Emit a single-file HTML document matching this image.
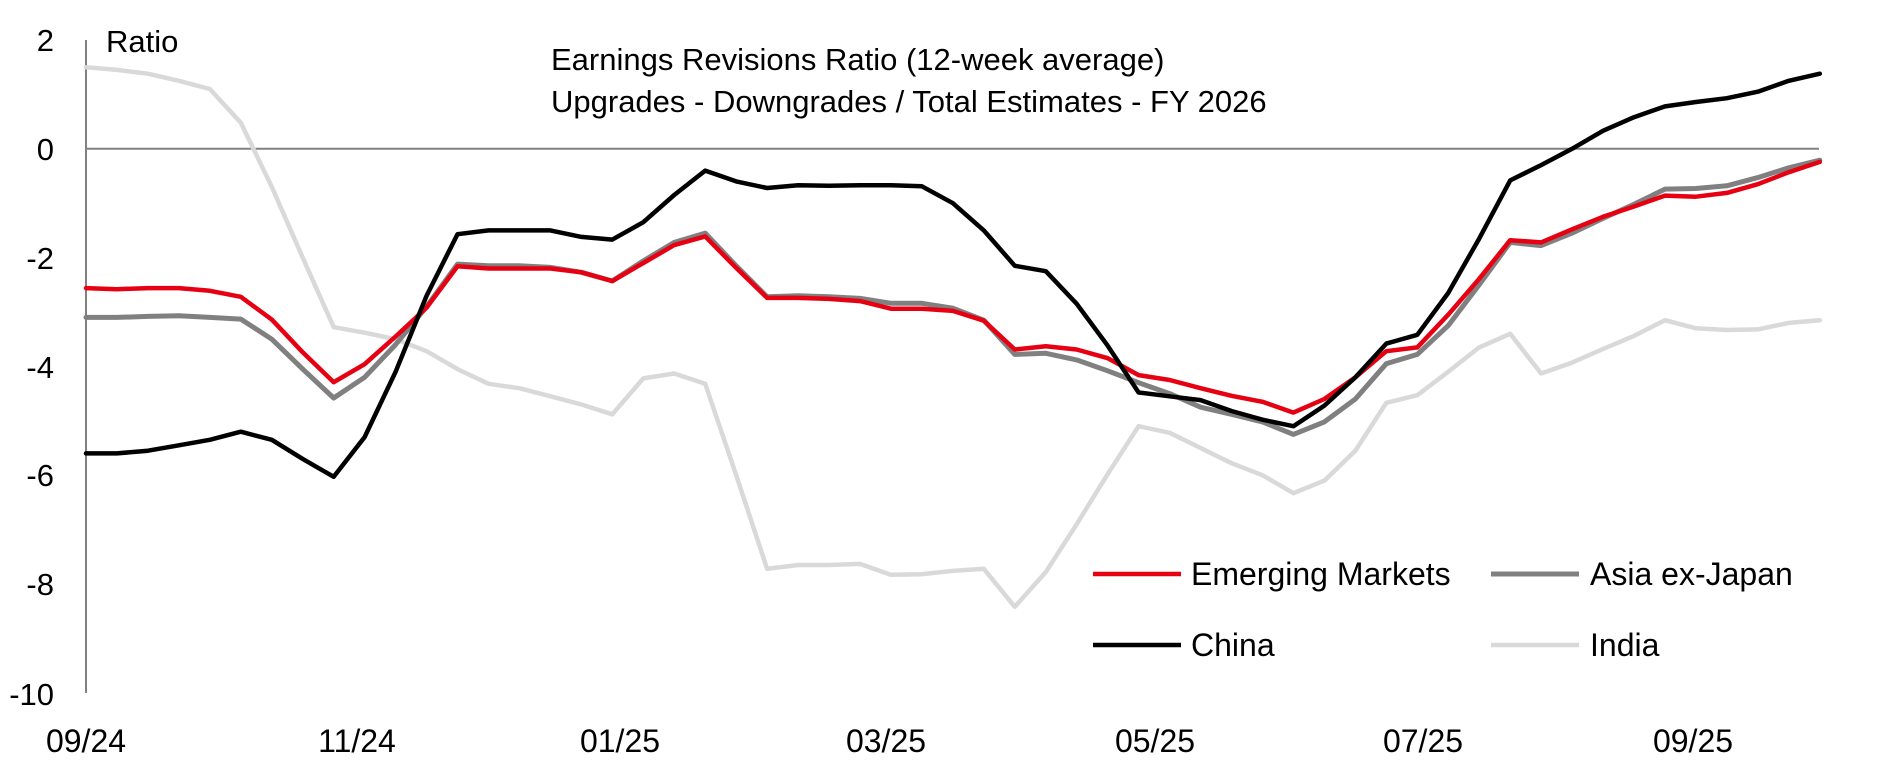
<!DOCTYPE html>
<html><head><meta charset="utf-8"><style>
html,body{margin:0;padding:0;background:#fff}
svg{display:block}
text{font-family:"Liberation Sans",sans-serif;fill:#000}
</style></head><body>
<svg id="c" width="1886" height="766" xmlns="http://www.w3.org/2000/svg">
<line x1="86" y1="148.8" x2="1819" y2="148.8" stroke="#808080" stroke-width="2"/>
<line x1="86" y1="40" x2="86" y2="693" stroke="#808080" stroke-width="2"/>
<g font-size="31" text-anchor="end">
<text x="54" y="51">2</text><text x="54" y="160">0</text><text x="54" y="269">-2</text>
<text x="54" y="378">-4</text><text x="54" y="486">-6</text><text x="54" y="595">-8</text>
<text x="54" y="705">-10</text></g>
<g font-size="32" text-anchor="middle">
<text x="86" y="752">09/24</text><text x="357" y="752">11/24</text><text x="620" y="752">01/25</text>
<text x="886" y="752">03/25</text><text x="1155" y="752">05/25</text><text x="1423" y="752">07/25</text>
<text x="1693" y="752">09/25</text></g>
<text x="106" y="52" font-size="31">Ratio</text>
<text x="551" y="70" font-size="31">Earnings Revisions Ratio (12-week average)</text>
<text x="551" y="112" font-size="31">Upgrades - Downgrades / Total Estimates - FY 2026</text>
<g id="series" fill="none" stroke-linejoin="round" stroke-linecap="round"></g>
<g font-size="32">
<line x1="1093" y1="574" x2="1181" y2="574" stroke="#e60012" stroke-width="4.5"/>
<text x="1191" y="585">Emerging Markets</text>
<line x1="1491" y1="574" x2="1579" y2="574" stroke="#808080" stroke-width="5"/>
<text x="1590" y="585">Asia ex-Japan</text>
<line x1="1093" y1="645" x2="1181" y2="645" stroke="#000" stroke-width="4.5"/>
<text x="1191" y="656">China</text>
<line x1="1491" y1="645" x2="1579" y2="645" stroke="#d9d9d9" stroke-width="4.5"/>
<text x="1590" y="656">India</text>
</g>
</svg>
<script>
var D={
india:[1.5,1.45,1.38,1.25,1.1,0.48,-0.7,-2.0,-3.28,-3.38,-3.5,-3.72,-4.05,-4.32,-4.4,-4.55,-4.7,-4.88,-4.22,-4.13,-4.32,-6.0,-7.72,-7.65,-7.65,-7.63,-7.83,-7.82,-7.76,-7.72,-8.42,-7.78,-6.9,-5.98,-5.1,-5.22,-5.5,-5.78,-6.0,-6.33,-6.1,-5.55,-4.67,-4.53,-4.1,-3.65,-3.4,-4.13,-3.93,-3.68,-3.44,-3.15,-3.3,-3.33,-3.32,-3.2,-3.15],
axj:[-3.1,-3.1,-3.08,-3.07,-3.1,-3.13,-3.5,-4.05,-4.58,-4.2,-3.6,-2.9,-2.12,-2.15,-2.15,-2.18,-2.27,-2.43,-2.06,-1.72,-1.55,-2.15,-2.72,-2.7,-2.72,-2.75,-2.84,-2.84,-2.93,-3.15,-3.78,-3.76,-3.88,-4.08,-4.3,-4.5,-4.75,-4.88,-5.02,-5.25,-5.02,-4.6,-3.95,-3.78,-3.25,-2.5,-1.72,-1.78,-1.55,-1.28,-1.02,-0.74,-0.73,-0.68,-0.53,-0.35,-0.21],
em:[-2.56,-2.58,-2.56,-2.56,-2.61,-2.72,-3.14,-3.74,-4.29,-3.96,-3.45,-2.92,-2.16,-2.2,-2.2,-2.2,-2.27,-2.43,-2.1,-1.77,-1.61,-2.19,-2.74,-2.74,-2.76,-2.8,-2.94,-2.94,-2.98,-3.16,-3.69,-3.63,-3.69,-3.85,-4.16,-4.25,-4.4,-4.54,-4.65,-4.85,-4.6,-4.2,-3.72,-3.65,-3.05,-2.39,-1.68,-1.72,-1.48,-1.25,-1.06,-0.86,-0.88,-0.81,-0.65,-0.43,-0.24],
china:[-5.6,-5.6,-5.55,-5.45,-5.35,-5.2,-5.35,-5.7,-6.03,-5.3,-4.1,-2.7,-1.57,-1.5,-1.5,-1.5,-1.62,-1.67,-1.35,-0.85,-0.4,-0.6,-0.72,-0.67,-0.68,-0.67,-0.67,-0.69,-1.0,-1.5,-2.15,-2.25,-2.85,-3.62,-4.48,-4.55,-4.62,-4.82,-4.98,-5.1,-4.72,-4.2,-3.58,-3.42,-2.65,-1.65,-0.58,-0.3,0.0,0.33,0.58,0.78,0.86,0.93,1.05,1.25,1.38]};
var S=[["india","#d9d9d9",4.5],["axj","#808080",5],["em","#e60012",4.5],["china","#000",4.5]];
var g=document.getElementById("series"),ns="http://www.w3.org/2000/svg";
S.forEach(function(s){var p=D[s[0]].map(function(v,i){return (86+i*30.96).toFixed(1)+","+(148.8-54.4*v).toFixed(1)}).join(" ");
var e=document.createElementNS(ns,"polyline");e.setAttribute("points",p);e.setAttribute("stroke",s[1]);e.setAttribute("stroke-width",s[2]);g.appendChild(e);});
</script>
</body></html>
